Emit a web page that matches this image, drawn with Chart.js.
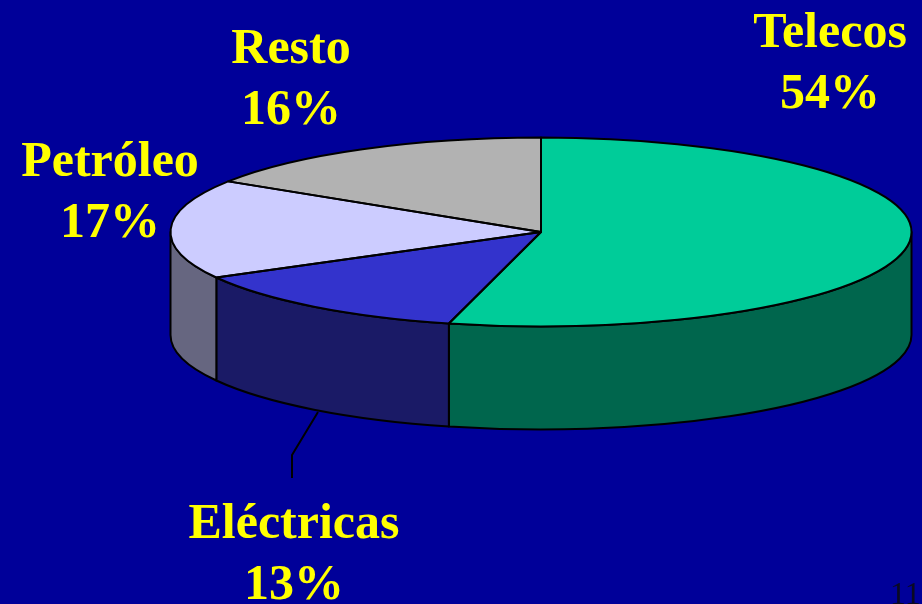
<!DOCTYPE html>
<html><head><meta charset="utf-8">
<script src="https://cdn.jsdelivr.net/npm/chart.js@4/dist/chart.umd.min.js"></script>
<style>html,body{margin:0;padding:0;background:#000099;overflow:hidden}#wrap{width:922px;height:604px;position:relative}</style>
</head><body><div id="wrap"><canvas id="c" width="922" height="604"></canvas></div>
<script>
// ---- data ----
const categories = ['Telecos', 'Eléctricas', 'Petróleo', 'Resto'];
const shares = [54, 13, 17, 16];
const pageNumber = '11';

// ---- styling ----
const topColors = ['#00CC99', '#3333CC', '#CCCCFF', '#B2B2B2'];
const sideColors = ['#00664D', '#1A1A66', '#666680', '#595959'];
const BG = '#000099';
const RX = 370.5, RY = 94.5, DEPTH = 103;
const labelPos = [ {x: 830, y: 47}, {x: 294, y: 538}, {x: 110, y: 176}, {x: 291, y: 63} ];
const LINE_GAP = 61;

const pie3d = {
  id: 'pie3d',
  beforeDraw(chart) {
    const ctx = chart.ctx;
    ctx.save(); ctx.fillStyle = BG; ctx.fillRect(0, 0, chart.width, chart.height); ctx.restore();
  },
  beforeDatasetsDraw(chart) {
    const ctx = chart.ctx;
    const arcs = chart.getDatasetMeta(0).data;
    const cx = arcs[0].x, cy = arcs[0].y, R = arcs[0].outerRadius;
    ctx.save();
    ctx.lineWidth = 2; ctx.strokeStyle = '#000'; ctx.lineJoin = 'round';
    arcs.forEach((a, i) => {
      const a0 = Math.max(a.startAngle, 0), a1 = Math.min(a.endAngle, Math.PI);
      if (a1 <= a0) return;
      ctx.beginPath();
      ctx.ellipse(cx, cy, RX, RY, 0, a0, a1, false);
      ctx.ellipse(cx, cy + DEPTH, RX, RY, 0, a1, a0, true);
      ctx.closePath();
      ctx.fillStyle = sideColors[i];
      ctx.fill(); ctx.stroke();
    });
    ctx.restore();
    ctx.save();
    ctx.translate(cx, cy); ctx.scale(RX / R, RY / R); ctx.translate(-cx, -cy);
  },
  afterDatasetsDraw(chart) {
    const ctx = chart.ctx;
    ctx.restore();
    const arcs = chart.getDatasetMeta(0).data;
    const cx = arcs[0].x, cy = arcs[0].y;
    ctx.save();
    ctx.lineWidth = 2; ctx.strokeStyle = '#000'; ctx.lineJoin = 'round';
    arcs.forEach((a) => {
      ctx.beginPath();
      ctx.moveTo(cx, cy);
      ctx.ellipse(cx, cy, RX, RY, 0, a.startAngle, a.endAngle, false);
      ctx.closePath();
      ctx.stroke();
    });
    // leader line for Eléctricas
    ctx.beginPath();
    ctx.moveTo(318, 412); ctx.lineTo(292, 455); ctx.lineTo(292, 478);
    ctx.stroke();
    ctx.restore();
  },
  afterDraw(chart) {
    const ctx = chart.ctx;
    ctx.save();
    ctx.fillStyle = '#FFFF00';
    ctx.textAlign = 'center'; ctx.textBaseline = 'alphabetic';
    ctx.font = 'bold 50px "Liberation Serif", "Times New Roman", serif';
    categories.forEach((c, i) => {
      const p = labelPos[i];
      ctx.fillText(c, p.x, p.y);
      ctx.fillText(shares[i] + '%', p.x, p.y + LINE_GAP);
    });
    ctx.fillStyle = '#0a0a22';
    ctx.font = '32px "Liberation Serif", serif';
    ctx.textAlign = 'left';
    ctx.fillText(pageNumber, 890, 604);
    ctx.restore();
  }
};

new Chart(document.getElementById('c'), {
  type: 'pie',
  data: {
    labels: categories,
    datasets: [{ data: shares, backgroundColor: topColors, borderWidth: 0, clip: false, hoverOffset: 0 }]
  },
  options: {
    responsive: false, animation: false,
    layout: { padding: { left: 170, right: 10, top: 0, bottom: 140 } },
    plugins: { legend: { display: false }, tooltip: { enabled: false } },
    events: []
  },
  plugins: [pie3d]
});
</script></body></html>
